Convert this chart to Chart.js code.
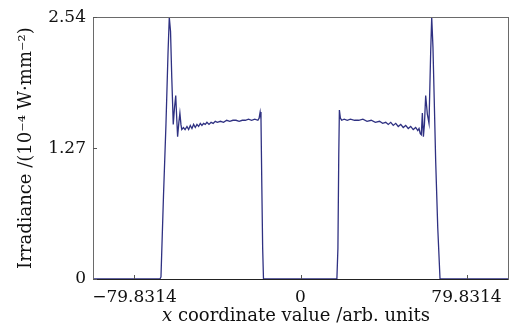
<!DOCTYPE html>
<html>
<head>
<meta charset="utf-8">
<script src="https://cdn.jsdelivr.net/npm/chart.js@4.4.1/dist/chart.umd.min.js"></script>
<style>
  body { margin: 0; background: #fff; }
  #wrap { width: 521px; height: 328px; position: relative; }
</style>
</head>
<body>
<div id="wrap"><canvas id="irrChart"></canvas></div>
<script>
// x coordinate (arb. units) and irradiance (10^-4 W/mm^2)
const xCoords = [
  -99.789, -80, -67.6, -67.1, -65.9, -64.7, -63.7, -63.1, -62.5, -61.9,
  -61.5, -61.2, -60.6, -60.0, -59.5, -59.1, -58.5, -58.0, -57.5, -57.1,
  -56.3, -55.5, -54.6, -53.8, -53.0, -52.2, -51.4, -50.6, -49.8, -49.0,
  -48.2, -47.4, -46.6, -45.8, -45.0, -44.0, -43.0, -42.0, -41.0, -40.0,
  -38.5, -37.0, -35.5, -34.0, -32.5, -31.0, -29.5, -28.0, -26.5, -25.0,
  -23.5, -22.0, -20.5, -19.9, -19.4, -19.0, -18.6, -18.2, -17.8,
  17.5, 18.0, 18.4, 18.7, 19.2, 19.8, 21.0, 22.5, 24.0, 26.0,
  28.0, 30.0, 32.0, 34.0, 36.0, 38.0, 39.5, 41.0, 42.2, 43.4,
  44.6, 45.8, 47.0, 48.2, 49.4, 50.6, 51.8, 53.0, 54.2, 55.4,
  56.4, 57.0, 57.6, 58.1, 58.6, 59.1, 59.6, 60.2, 61.0, 61.8,
  62.6, 63.1, 63.7, 64.3, 65.0, 66.0, 67.1, 80, 99.789
];
const irradiance = [
  0, 0, 0, 0.02, 0.8, 1.5, 2.2, 2.54, 2.4, 1.95,
  1.7, 1.5, 1.66, 1.78, 1.55, 1.38, 1.52, 1.61, 1.5, 1.45,
  1.47, 1.45, 1.48, 1.45, 1.49, 1.46, 1.5, 1.47, 1.5, 1.48,
  1.51, 1.49, 1.51, 1.5, 1.52, 1.5, 1.52, 1.51, 1.53, 1.52,
  1.53, 1.52, 1.54, 1.53, 1.54, 1.54, 1.53, 1.54, 1.54, 1.55,
  1.54, 1.55, 1.54, 1.56, 1.62, 1.55, 0.9, 0.3, 0,
  0, 0.3, 1.2, 1.64, 1.56, 1.54, 1.55, 1.54, 1.55, 1.54,
  1.54, 1.55, 1.53, 1.54, 1.52, 1.53, 1.51, 1.52, 1.5, 1.52,
  1.49, 1.51, 1.48, 1.5, 1.47, 1.49, 1.46, 1.48, 1.45, 1.47,
  1.44, 1.46, 1.41, 1.4, 1.61, 1.38, 1.5, 1.78, 1.6, 1.51,
  2.2, 2.54, 2.25, 1.75, 1.15, 0.5, 0, 0, 0
];
const xTicks = [-79.8314, 0, 79.8314];
const yTicks = [0, 1.27, 2.54];

const serif = '"DejaVu Serif", "Liberation Serif", serif';
const tickSize = 17;
const titleSize = 18;

// box around the plot, short inward tick marks and the two axis titles
const framePlugin = {
  id: 'frame',
  afterDraw(chart) {
    const { ctx, chartArea: a, scales } = chart;
    ctx.save();
    ctx.lineWidth = 1;
    ctx.strokeStyle = '#6a6a6a';
    ctx.strokeRect(Math.round(a.left) + 0.5, Math.round(a.top) + 0.5,
      Math.round(a.right - a.left), Math.round(a.bottom - a.top));
    ctx.strokeStyle = '#222';
    ctx.beginPath();
    ctx.moveTo(a.left, Math.round(a.bottom) + 0.5);
    ctx.lineTo(a.right, Math.round(a.bottom) + 0.5);
    ctx.stroke();
    ctx.strokeStyle = '#555';
    ctx.beginPath();
    xTicks.forEach(v => {
      const px = Math.round(scales.x.getPixelForValue(v)) + 0.5;
      ctx.moveTo(px, a.bottom);
      ctx.lineTo(px, a.bottom - 4);
    });
    yTicks.forEach(v => {
      const py = Math.round(scales.y.getPixelForValue(v)) + 0.5;
      ctx.moveTo(a.left, py);
      ctx.lineTo(a.left + 4, py);
    });
    ctx.stroke();

    ctx.fillStyle = '#111';
    ctx.textBaseline = 'alphabetic';
    ctx.textAlign = 'left';

    // x axis title with italic "x"
    const part1 = 'x';
    const part2 = ' coordinate value /arb. units';
    ctx.font = 'italic ' + titleSize + 'px ' + serif;
    const w1 = ctx.measureText(part1).width;
    ctx.font = titleSize + 'px ' + serif;
    const w2 = ctx.measureText(part2).width;
    const sx = 296 - (w1 + w2) / 2;
    ctx.font = 'italic ' + titleSize + 'px ' + serif;
    ctx.fillText(part1, sx, 321);
    ctx.font = titleSize + 'px ' + serif;
    ctx.fillText(part2, sx + w1, 321);

    // y axis title, rotated
    const ytitle = 'Irradiance /(10\u207B\u2074 W\u00B7mm\u207B\u00B2)';
    ctx.font = titleSize + 'px ' + serif;
    const wy = ctx.measureText(ytitle).width;
    ctx.translate(31, (a.top + a.bottom) / 2);
    ctx.rotate(-Math.PI / 2);
    ctx.fillText(ytitle, -wy / 2, 0);
    ctx.restore();
  }
};

const ctx = document.getElementById('irrChart').getContext('2d');
const chart = new Chart(ctx, {
  type: 'scatter',
  data: {
    datasets: [{
      label: 'Irradiance',
      data: xCoords.map((x, i) => ({ x: x, y: irradiance[i] })),
      showLine: true,
      borderColor: '#2f3182',
      borderWidth: 1.3,
      pointRadius: 0,
      tension: 0
    }]
  },
  options: {
    responsive: true,
    maintainAspectRatio: false,
    animation: false,
    layout: { padding: { left: 0, right: 13, top: 17, bottom: 0 } },
    plugins: {
      legend: { display: false },
      tooltip: { enabled: false }
    },
    scales: {
      x: {
        type: 'linear',
        min: -99.789,
        max: 99.789,
        grid: { display: false, drawTicks: false, tickLength: 0 },
        border: { display: false },
        afterBuildTicks: scale => { scale.ticks = xTicks.map(v => ({ value: v })); },
        afterFit: scale => { scale.height = 49; },
        ticks: {
          autoSkip: false,
          maxRotation: 0,
          padding: 8,
          color: '#111',
          font: { family: serif, size: tickSize },
          callback: v => (v < 0 ? '\u2212' + Math.abs(v) : String(v))
        }
      },
      y: {
        min: 0,
        max: 2.54,
        grid: { display: false, drawTicks: false, tickLength: 0 },
        border: { display: false },
        afterBuildTicks: scale => { scale.ticks = yTicks.map(v => ({ value: v })); },
        afterFit: scale => { scale.width = 93; },
        ticks: {
          padding: 7,
          color: '#111',
          font: { family: serif, size: tickSize },
          callback: v => String(v)
        }
      }
    }
  },
  plugins: [framePlugin]
});
</script>
</body>
</html>
